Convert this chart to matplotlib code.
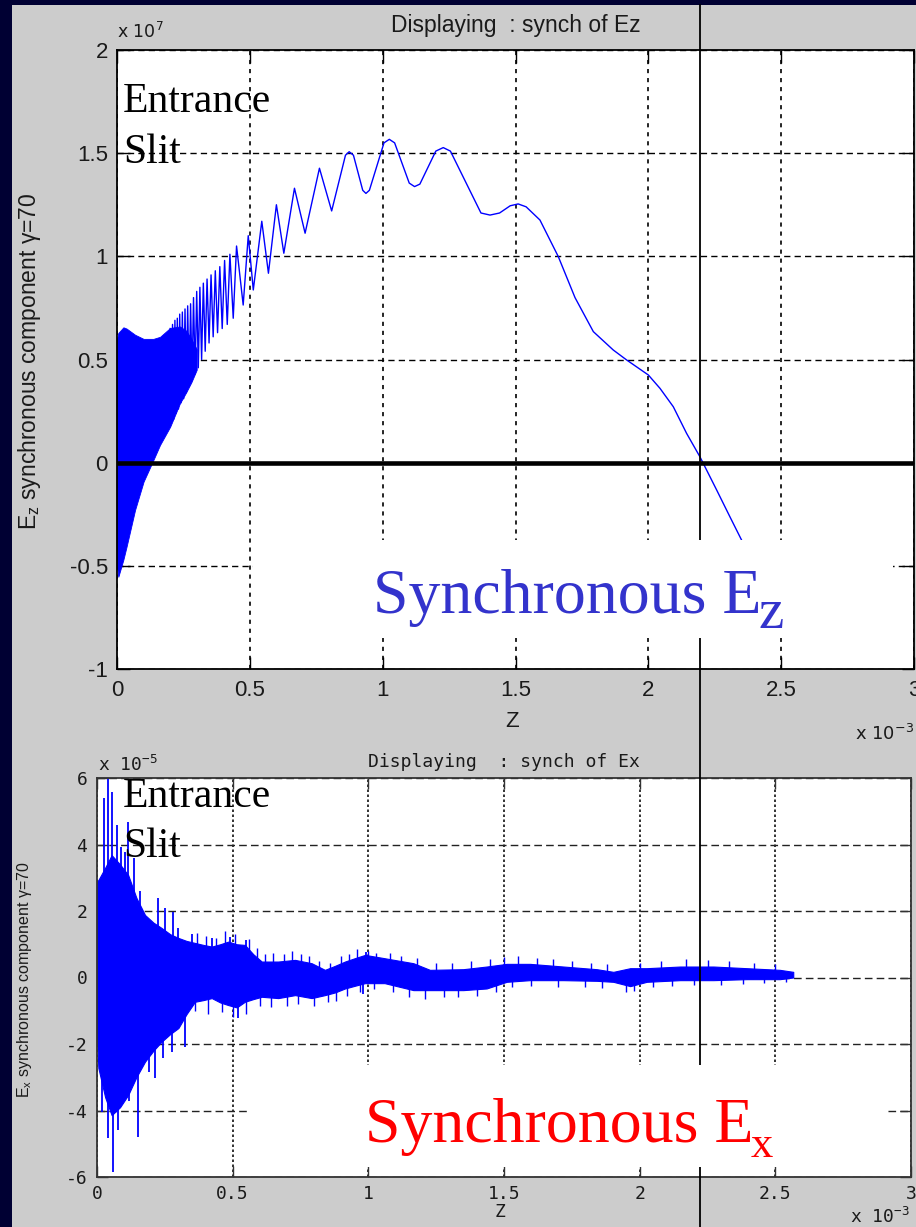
import matplotlib
matplotlib.use("Agg")
import matplotlib.pyplot as plt
from matplotlib.patches import Rectangle
from matplotlib.lines import Line2D
from matplotlib import font_manager as fm

# ---------------- data (z in units of 1e-3) ----------------
# Synchronous Ez (units of 1e7): dense oscillation band near the slit
ez_band_z = [0.0, 0.005, 0.024, 0.036, 0.068, 0.10, 0.137, 0.162, 0.20, 0.237, 0.26, 0.28, 0.30]
ez_band_hi = [0.60, 0.629, 0.656, 0.65, 0.62, 0.60, 0.60, 0.61, 0.653, 0.66, 0.64, 0.60, 0.55]
ez_band_lo = [-0.50, -0.553, -0.47, -0.407, -0.229, -0.092, 0.013, 0.086, 0.174, 0.288, 0.34, 0.39, 0.45]

# Synchronous Ez: resolved oscillation + decay (read peaks / troughs / slope points)
ez_line_z = [0.200, 0.2045, 0.209, 0.2135, 0.218, 0.2225, 0.227, 0.2315, 0.236, 0.241,
             0.246, 0.251, 0.256, 0.261, 0.266, 0.2715, 0.277, 0.2825, 0.288, 0.294,
             0.300, 0.306, 0.312, 0.3185, 0.325, 0.332, 0.339, 0.3465, 0.354, 0.362,
             0.370, 0.3785, 0.387, 0.396, 0.405, 0.415, 0.425, 0.4375, 0.450,
             0.475, 0.494, 0.513, 0.545, 0.570,
             0.600, 0.628, 0.668, 0.708, 0.762, 0.808, 0.860, 0.874, 0.890, 0.925,
             0.937, 0.950, 1.005, 1.025, 1.045, 1.100, 1.120, 1.140, 1.200, 1.228,
             1.255, 1.370, 1.404, 1.440, 1.480, 1.510, 1.540, 1.592, 1.661, 1.724,
             1.793, 1.868, 1.918, 2.000, 2.044, 2.094, 2.144, 2.194, 2.257, 2.307,
             2.349, 2.400]
ez_line_v = [0.65, 0.19, 0.67, 0.21, 0.69, 0.24, 0.70, 0.26, 0.72, 0.29,
             0.73, 0.31, 0.745, 0.34, 0.76, 0.37, 0.77, 0.40, 0.80, 0.43,
             0.83, 0.46, 0.85, 0.50, 0.87, 0.54, 0.89, 0.58, 0.91, 0.61,
             0.93, 0.63, 0.95, 0.65, 0.98, 0.67, 1.01, 0.70, 1.05,
             0.764, 1.10, 0.837, 1.17, 0.918,
             1.25, 1.015, 1.33, 1.112, 1.427, 1.22, 1.49, 1.507, 1.49, 1.32,
             1.305, 1.32, 1.55, 1.567, 1.55, 1.355, 1.338, 1.35, 1.51, 1.527,
             1.51, 1.21, 1.20, 1.21, 1.245, 1.254, 1.24, 1.176, 0.999, 0.80,
             0.635, 0.546, 0.498, 0.425, 0.36, 0.271, 0.142, 0.029, -0.132, -0.262,
             -0.37, -0.50]

# Synchronous Ex (units of 1e-5): envelope of the noisy band
ex_z = [0.0, 0.005, 0.03, 0.054, 0.085, 0.115, 0.145, 0.177, 0.208, 0.238,
        0.27, 0.30, 0.33, 0.361, 0.392, 0.423, 0.454, 0.484, 0.515, 0.545,
        0.576, 0.607, 0.668, 0.73, 0.791, 0.84, 0.877, 0.914, 0.95, 0.988,
        1.06, 1.166, 1.227, 1.35, 1.436, 1.51, 1.596, 1.719, 1.842, 1.903,
        1.965, 2.026, 2.149, 2.272, 2.395, 2.517, 2.566]
ex_hi = [2.9, 2.93, 3.3, 3.68, 3.4, 3.08, 2.4, 1.88, 1.65, 1.49,
         1.3, 1.19, 1.1, 1.04, 0.98, 0.93, 1.0, 1.08, 1.0, 0.98,
         0.7, 0.48, 0.48, 0.53, 0.43, 0.23, 0.35, 0.48, 0.58, 0.68,
         0.58, 0.43, 0.23, 0.25, 0.33, 0.41, 0.41, 0.33, 0.25, 0.17,
         0.28, 0.28, 0.33, 0.33, 0.28, 0.23, 0.17]
ex_lo = [-1.8, -2.72, -3.6, -4.14, -3.9, -3.53, -3.0, -2.53, -2.2, -1.93,
         -1.7, -1.52, -1.1, -0.73, -0.68, -0.62, -0.75, -0.83, -0.9, -0.73,
         -0.65, -0.58, -0.62, -0.53, -0.62, -0.53, -0.45, -0.33, -0.25, -0.17,
         -0.17, -0.38, -0.38, -0.38, -0.33, -0.13, -0.08, -0.08, -0.1, -0.13,
         -0.26, -0.13, -0.08, -0.08, -0.05, -0.05, 0.0]
# large spikes sticking out of the band
ex_spike_z = [0.020, 0.027, 0.041, 0.042, 0.056, 0.060, 0.072, 0.079, 0.090, 0.092,
              0.104, 0.115, 0.118, 0.135, 0.152, 0.160, 0.190, 0.214, 0.226, 0.245,
              0.250, 0.276, 0.281, 0.300, 0.324, 0.350, 0.424, 0.490, 0.520, 0.550,
              0.980, 0.990]
ex_spike_v = [-4.04, 5.39, -4.83, 5.99, 5.59, -5.84, 4.59, -4.6, 3.93, -3.59,
              3.78, 4.69, -3.7, 3.6, -4.79, 2.6, -2.83, -3.03, 2.38, -2.43,
              2.09, -2.23, 1.98, 1.5, -2.08, 1.3, 1.19, 1.23, -1.23, 1.13,
              -0.5, 0.78]
# small jags along the band edges
ex_jag_z = [0.37, 0.40, 0.44, 0.47, 0.51, 0.56, 0.59, 0.62, 0.65, 0.69,
            0.72, 0.75, 0.78, 0.82, 0.86, 0.90, 0.93, 0.96, 1.00, 1.03,
            1.08, 1.12, 1.18, 1.25, 1.31, 1.38, 1.45, 1.50, 1.55, 1.62,
            1.68, 1.75, 1.82, 1.88, 2.00, 2.08, 2.17, 2.25, 2.33, 2.42,
            2.50,
            0.36, 0.41, 0.46, 0.50, 0.55, 0.60, 0.64, 0.70, 0.74, 0.80,
            0.85, 0.88, 0.92, 0.97, 1.02, 1.09, 1.15, 1.21, 1.28, 1.33,
            1.40, 1.47, 1.53, 1.60, 1.70, 1.80, 1.86, 1.95, 1.98, 2.05,
            2.12, 2.20, 2.30, 2.38, 2.46, 2.54]
ex_jag_v = [1.35, 1.25, 1.2, 1.4, 1.3, 1.15, 0.9, 0.7, 0.75, 0.7,
            0.8, 0.7, 0.65, 0.5, 0.45, 0.65, 0.7, 0.85, 0.8, 0.75,
            0.75, 0.65, 0.6, 0.45, 0.45, 0.5, 0.55, 0.62, 0.65, 0.6,
            0.55, 0.5, 0.45, 0.4, 0.45, 0.5, 0.55, 0.52, 0.5, 0.45,
            0.4,
            -1.0, -1.1, -1.05, -1.2, -1.1, -0.85, -0.9, -0.85, -0.8, -0.85,
            -0.75, -0.7, -0.55, -0.45, -0.35, -0.45, -0.6, -0.65, -0.6, -0.6,
            -0.55, -0.45, -0.3, -0.25, -0.28, -0.3, -0.32, -0.45, -0.4, -0.3,
            -0.25, -0.22, -0.22, -0.2, -0.18, -0.15]

x_ticks = [0, 0.5, 1, 1.5, 2, 2.5, 3]
x_tick_labels = ["0", "0.5", "1", "1.5", "2", "2.5", "3"]
ez_ticks = [-1, -0.5, 0, 0.5, 1, 1.5, 2]
ez_tick_labels = ["-1", "-0.5", "0", "0.5", "1", "1.5", "2"]
ex_ticks = [-6, -4, -2, 0, 2, 4, 6]
ex_tick_labels = ["-6", "-4", "-2", "0", "2", "4", "6"]

# ---------------- figure ----------------
plt.rcParams['font.family'] = 'Liberation Sans'
plt.rcParams['lines.scale_dashes'] = False

W, H = 916, 1227
fig = plt.figure(figsize=(W / 100, H / 100), dpi=100, facecolor='#000033')


def fx(x):
    return x / W


def fy(y):
    return 1 - y / H


names = {f.name for f in fm.fontManager.ttflist}
narrow = 'Liberation Sans Narrow' if 'Liberation Sans Narrow' in names else 'Liberation Sans'
narrow_size = 13.5 if narrow == 'Liberation Sans Narrow' else 11.5
MONO = 'DejaVu Sans Mono'
TXT = '#1a1a1a'
BLUE = '#0000ff'

# gray panel
fig.add_artist(Rectangle((fx(12), 0), 1 - fx(12), fy(5), transform=fig.transFigure,
                         facecolor='#cccccc', edgecolor='none', zorder=-5))

# ---------- top axes: Ez ----------
ax1 = fig.add_axes([fx(117), fy(669), (914 - 117) / W, (669 - 50) / H])
ax1.set_facecolor('white')
ax1.set_axisbelow(True)
ax1.fill_between(ez_band_z, ez_band_lo, ez_band_hi, color=BLUE, lw=0.6)
ax1.plot(ez_line_z, ez_line_v, color=BLUE, lw=1.0)
ax1.axhline(0, color='black', lw=3.3, zorder=3)
ax1.set_xlim(0, 3)
ax1.set_ylim(-1, 2)
ax1.set_xticks(x_ticks)
ax1.set_xticklabels(x_tick_labels)
ax1.set_yticks(ez_ticks)
ax1.set_yticklabels(ez_tick_labels)
ax1.tick_params(direction='in', length=9, width=1, top=True, right=True,
                labelsize=16, labelcolor=TXT)
ax1.tick_params(axis='x', pad=8)
ax1.tick_params(axis='y', pad=6.5)
ax1.grid(axis='y', color='black', lw=1.0, linestyle=(0, (4.5, 3)))
ax1.grid(axis='x', color='black', lw=1.2, linestyle=(0, (3, 3.5)))
for s in ax1.spines.values():
    s.set_linewidth(1.3)
    s.set_color('black')
ax1.set_title('Displaying  : synch of Ez', fontsize=16.5, color=TXT, pad=13)
ax1.set_xlabel('Z', fontsize=16, color=TXT)
ax1.xaxis.set_label_coords((512 - 117) / 797, (669 - 711) / 619)
ax1.set_ylabel(r'$\mathregular{E_z}$ synchronous component γ=70', fontsize=16.5,
               color=TXT, va='center', ha='center')
ax1.yaxis.set_label_coords((30 - 117) / 797, (669 - 361) / 619)

fig.text(fx(117), fy(38), r'x $\mathregular{10^{7}}$', fontsize=12.5, color=TXT,
         family='DejaVu Sans', ha='left', va='baseline')
fig.text(fx(855), fy(740), r'x $\mathregular{10^{-3}}$', fontsize=13, color=TXT,
         family='DejaVu Sans', ha='left', va='baseline')

# ---------- bottom axes: Ex ----------
ax2 = fig.add_axes([fx(97), fy(1177), (911 - 97) / W, (1177 - 778) / H])
ax2.set_facecolor('white')
ax2.set_axisbelow(True)
ax2.fill_between(ex_z, ex_lo, ex_hi, color=BLUE, lw=0.8)
ax2.vlines(ex_spike_z, 0, ex_spike_v, color=BLUE, lw=1.3)
ax2.vlines(ex_jag_z, 0, ex_jag_v, color=BLUE, lw=1.0)
ax2.set_xlim(0, 3)
ax2.set_ylim(-6, 6)
ax2.set_xticks(x_ticks)
ax2.set_xticklabels(x_tick_labels, fontfamily=MONO)
ax2.set_yticks(ex_ticks)
ax2.set_yticklabels(ex_tick_labels, fontfamily=MONO)
ax2.tick_params(direction='in', length=8, width=1, top=True, right=True,
                labelsize=13, labelcolor=TXT, color='#333333')
ax2.tick_params(axis='x', pad=6)
ax2.tick_params(axis='y', pad=7)
ax2.grid(axis='y', color='#222222', lw=1.0, linestyle=(0, (5.5, 3)))
ax2.grid(axis='x', color='#222222', lw=1.3, linestyle=(0, (1.8, 1.8)))
for s in ax2.spines.values():
    s.set_linewidth(1.3)
    s.set_color('#333333')
ax2.set_title('Displaying  : synch of Ex', fontsize=13, color=TXT, pad=8,
              fontfamily=MONO)
ax2.set_xlabel('Z', fontsize=13, color=TXT, fontfamily=MONO)
ax2.xaxis.set_label_coords((500 - 97) / 814, (1177 - 1203) / 399)
ax2.set_ylabel(r'$\mathregular{E_x}$ synchronous component γ=70', fontsize=narrow_size,
               color=TXT, va='center', ha='center', fontfamily=narrow)
ax2.yaxis.set_label_coords((25 - 97) / 814, (1177 - 980) / 399)

fig.text(fx(98), fy(771), r'x $\mathregular{10^{-5}}$', fontsize=13, color=TXT,
         family=MONO, ha='left', va='baseline')
fig.text(fx(850), fy(1223), r'x $\mathregular{10^{-3}}$', fontsize=13, color=TXT,
         family=MONO, ha='left', va='baseline')

# ---------- slide overlays ----------
fig.add_artist(Line2D([fx(700), fx(700)], [0, fy(5)], transform=fig.transFigure,
                      color='black', lw=1.3, zorder=2))

fig.add_artist(Rectangle((fx(253), fy(638)), (893 - 253) / W, (638 - 540) / H,
                         transform=fig.transFigure, facecolor='white',
                         edgecolor='none', zorder=2.5))
fig.add_artist(Rectangle((fx(248), fy(1167)), (887 - 248) / W, (1167 - 1065) / H,
                         transform=fig.transFigure, facecolor='white',
                         edgecolor='none', zorder=2.5))

SERIF = 'Liberation Serif'
for yb, word in [(112, 'Entrance'), (163, 'Slit'), (807, 'Entrance'), (857, 'Slit')]:
    fig.text(fx(123), fy(yb), word, fontsize=30, family=SERIF, color='black',
             ha='left', va='baseline', zorder=4)

fig.text(fx(373), fy(613), 'Synchronous E', fontsize=46, family=SERIF,
         color='#3333cc', ha='left', va='baseline', zorder=4)
fig.text(fx(759), fy(628), 'z', fontsize=41, family=SERIF,
         color='#3333cc', ha='left', va='baseline', zorder=4)
fig.text(fx(365), fy(1142), 'Synchronous E', fontsize=46, family=SERIF,
         color='#ff0000', ha='left', va='baseline', zorder=4)
fig.text(fx(751), fy(1157), 'x', fontsize=32, family=SERIF,
         color='#ff0000', ha='left', va='baseline', zorder=4)

fig.savefig('out.png', dpi=100, facecolor=fig.get_facecolor())
